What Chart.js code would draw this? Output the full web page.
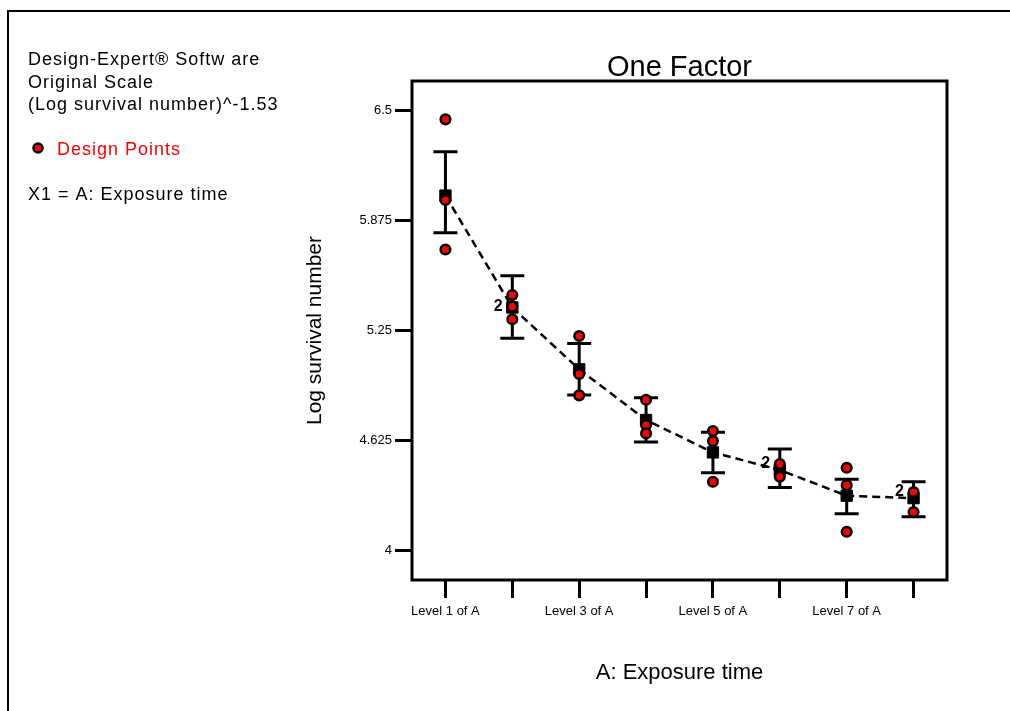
<!DOCTYPE html>
<html>
<head>
<meta charset="utf-8">
<script src="https://cdn.jsdelivr.net/npm/chart.js@4"></script>
<style>
  html, body { margin: 0; padding: 0; background: #fff; }
  canvas { display: block; }
</style>
</head>
<body>
<canvas id="oneFactor" width="1010" height="711"></canvas>
<script>
const ctx = document.getElementById('oneFactor').getContext('2d');

// factor levels (A: Exposure time)
const levels = [1, 2, 3, 4, 5, 6, 7, 8];
const yTicks = [4, 4.625, 5.25, 5.875, 6.5];

// design points (observed runs), count = points stacked on top of each other
const pointLevel = [1, 1, 1, 2, 2, 2, 3, 3, 3, 4, 4, 4, 5, 5, 5, 6, 6, 7, 7, 7, 8, 8];
const pointValue = [6.447, 5.989, 5.708, 5.449, 5.383, 5.311, 5.216, 5.0, 4.879, 4.854, 4.71, 4.663,
                    4.676, 4.619, 4.388, 4.489, 4.417, 4.468, 4.369, 4.104, 4.33, 4.216];
const pointCount = [1, 1, 1, 1, 2, 1, 1, 1, 1, 1, 1, 1, 1, 1, 1, 2, 1, 1, 1, 1, 2, 1];

// model prediction and its interval
const meanValue = [6.014, 5.378, 5.027, 4.739, 4.555, 4.455, 4.309, 4.295];
const errLow = [5.803, 5.203, 4.881, 4.614, 4.439, 4.356, 4.206, 4.189];
const errHigh = [6.263, 5.559, 5.174, 4.866, 4.670, 4.574, 4.403, 4.388];

const FONT = '"Liberation Sans", Arial, sans-serif';

// frame around the plot, title, outer page frame and the side notes
const framePlugin = {
    id: 'frame',
    beforeDatasetsDraw(chart) {
        const c = chart.ctx;
        const x = chart.scales.x, y = chart.scales.y;
        // error bars go under the markers
        c.save();
        c.strokeStyle = '#000';
        c.lineWidth = 3;
        levels.forEach((lv, i) => {
            const px = x.getPixelForValue(lv);
            const lo = y.getPixelForValue(errLow[i]);
            const hi = y.getPixelForValue(errHigh[i]);
            c.beginPath();
            c.moveTo(px, lo); c.lineTo(px, hi);
            c.moveTo(px - 12, lo); c.lineTo(px + 12, lo);
            c.moveTo(px - 12, hi); c.lineTo(px + 12, hi);
            c.stroke();
        });
        c.restore();
    },
    afterDatasetsDraw(chart) {
        const c = chart.ctx;
        const x = chart.scales.x, y = chart.scales.y;
        c.save();
        c.fillStyle = '#000';
        c.font = 'bold 16px ' + FONT;
        c.textAlign = 'center';
        c.textBaseline = 'middle';
        pointCount.forEach((n, i) => {
            if (n > 1) {
                c.fillText(String(n), x.getPixelForValue(pointLevel[i]) - 14, y.getPixelForValue(pointValue[i]));
            }
        });
        c.restore();
    },
    afterDraw(chart) {
        const c = chart.ctx;
        const a = chart.chartArea;
        c.save();
        c.strokeStyle = '#000';
        c.lineWidth = 3;
        c.strokeRect(a.left, a.top, a.right - a.left, a.bottom - a.top);

        // title centred over the plot
        c.fillStyle = '#000';
        c.font = '29px ' + FONT;
        c.textAlign = 'center';
        c.textBaseline = 'alphabetic';
        c.fillText('One Factor', (a.left + a.right) / 2, 76);

        // outer frame (top and left only are visible)
        c.lineWidth = 2;
        c.beginPath();
        c.moveTo(8, 711); c.lineTo(8, 11); c.lineTo(1010, 11);
        c.stroke();

        // notes on the left
        c.font = '18px ' + FONT;
        c.letterSpacing = '1px';
        c.textAlign = 'left';
        c.fillText('Design-Expert\u00ae Softw are', 28, 65);
        c.fillText('Original Scale', 28, 88);
        c.fillText('(Log survival number)^-1.53', 28, 110);
        c.fillText('X1 = A: Exposure time', 28, 200);
        c.fillStyle = '#ff0000';
        c.fillText('Design Points', 57, 155);
        c.beginPath();
        c.arc(38, 148, 4.5, 0, Math.PI * 2);
        c.fill();
        c.lineWidth = 2.5;
        c.stroke();
        c.restore();
    }
};

new Chart(ctx, {
    type: 'scatter',
    data: {
        datasets: [
            {
                // design points
                data: pointLevel.map((lv, i) => ({ x: lv, y: pointValue[i] })),
                backgroundColor: '#ff0000',
                borderColor: '#000',
                borderWidth: 2.5,
                pointRadius: 4.8,
                order: 0
            },
            {
                // predicted means, dashed
                data: levels.map((lv, i) => ({ x: lv, y: meanValue[i] })),
                showLine: true,
                borderColor: '#000',
                borderWidth: 2.5,
                borderDash: [8, 5],
                pointStyle: 'rect',
                pointRadius: 8,
                pointBorderWidth: 1,
                backgroundColor: '#000',
                order: 1
            }
        ]
    },
    options: {
        responsive: false,
        animation: false,
        layout: { padding: { left: 302, right: 63, top: 81, bottom: 24 } },
        plugins: {
            legend: { display: false },
            tooltip: { enabled: false }
        },
        scales: {
            x: {
                type: 'linear',
                min: 0.5,
                max: 8.5,
                afterBuildTicks: s => { s.ticks = levels.map(v => ({ value: v })); },
                afterFit: s => { s.height = 107; },
                grid: { drawOnChartArea: false, drawTicks: true, tickLength: 18, tickWidth: 3, tickColor: '#000' },
                border: { display: false },
                ticks: {
                    autoSkip: false,
                    maxRotation: 0,
                    padding: 6,
                    color: '#000',
                    font: { family: FONT, size: 13 },
                    callback: v => (v % 2 === 1 ? 'Level ' + v + ' of A' : '')
                },
                title: {
                    display: true,
                    text: 'A: Exposure time',
                    color: '#000',
                    font: { family: FONT, size: 22, lineHeight: 1.2 },
                    padding: { top: 0, bottom: 1 }
                }
            },
            y: {
                min: 3.83,
                max: 6.665,
                afterBuildTicks: s => { s.ticks = yTicks.map(v => ({ value: v })); },
                afterFit: s => { s.width = 110; },
                grid: { drawOnChartArea: false, drawTicks: true, tickLength: 17, tickWidth: 3, tickColor: '#000' },
                border: { display: false },
                ticks: {
                    padding: 3,
                    color: '#000',
                    font: { family: FONT, size: 13 },
                    callback: v => String(v)
                },
                title: {
                    display: true,
                    text: 'Log survival number',
                    color: '#000',
                    font: { family: FONT, size: 21, lineHeight: 1.2 },
                    padding: { top: 1, bottom: 0 }
                }
            }
        }
    },
    plugins: [framePlugin]
});
</script>
</body>
</html>
